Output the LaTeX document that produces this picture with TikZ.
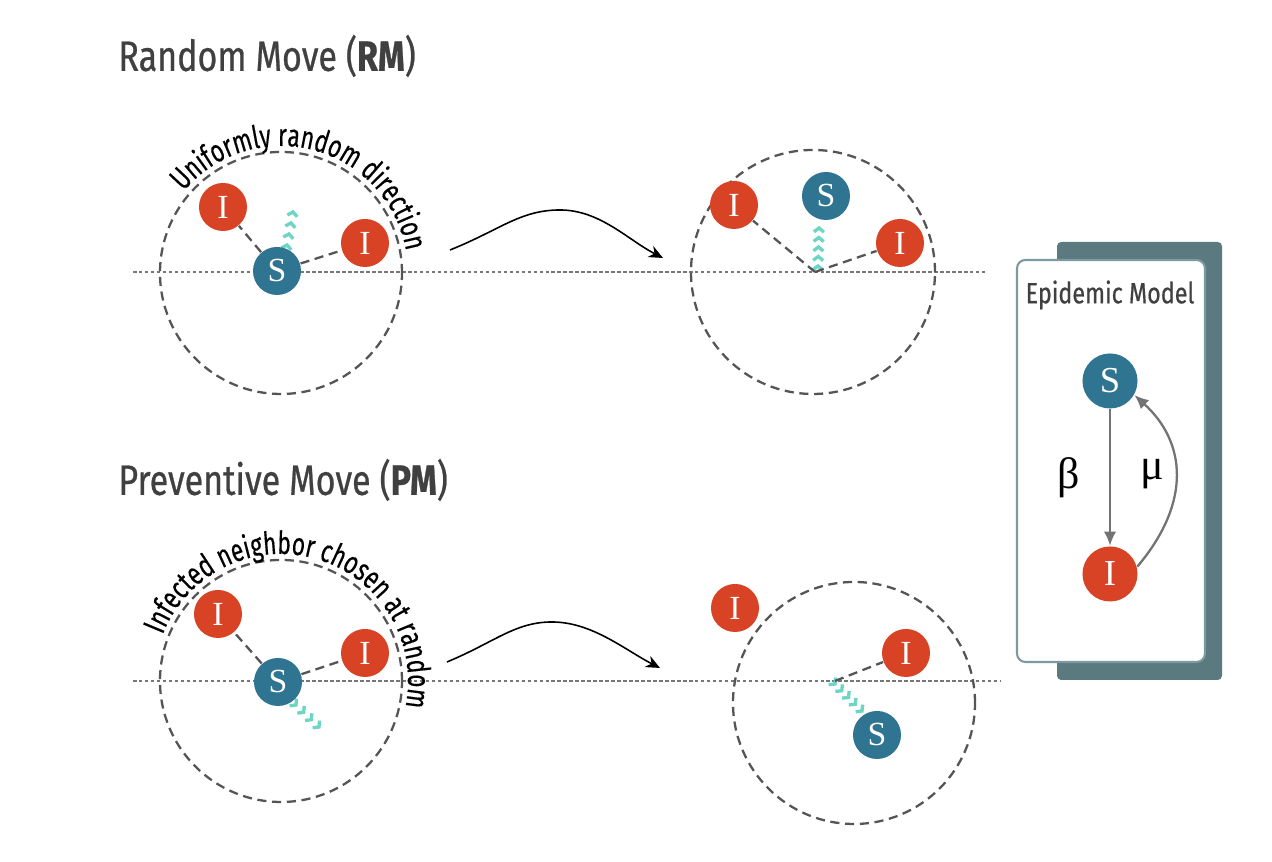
\documentclass[tikz,border=0pt]{standalone}
\usepackage{fontspec}
\usetikzlibrary{arrows.meta,decorations.text,calc}
\newfontfamily\headfont[FakeStretch=0.8,FakeBold=0.6]{Fira Sans}
\newfontfamily\curvedfont[FakeStretch=0.72,FakeBold=0.3]{Fira Sans}
\newfontfamily\letterfont{Liberation Serif}
\definecolor{infcol}{HTML}{D84325}
\definecolor{suscol}{HTML}{2F7490}
\definecolor{chevcol}{HTML}{6DD5C4}
\definecolor{linecol}{HTML}{555555}
\definecolor{boxcol}{HTML}{5B7A80}
\definecolor{framecol}{HTML}{7F99A0}
\definecolor{headcol}{HTML}{404040}
\newcommand\curvefont{\curvedfont\fontsize{9}{10}\selectfont}
\tikzset{
  agent/.style={circle,minimum size=0.48cm,inner sep=0pt,text=white,font=\letterfont\fontsize{9.6}{10}\selectfont},
  inf/.style={agent,fill=infcol},
  sus/.style={agent,fill=suscol},
  bigagent/.style={minimum size=0.55cm,font=\letterfont\fontsize{10.4}{11}\selectfont},
  zone/.style={draw=linecol,line width=0.65pt,dash pattern=on 2.6pt off 1.6pt},
  linkline/.style={draw=linecol,line width=0.65pt,dash pattern=on 2.6pt off 1.6pt},
  groundline/.style={draw=linecol!80,line width=0.3pt,dash pattern=on 1pt off 0.7pt},
  headline/.style={anchor=west,text=headcol,font=\headfont\fontsize{12.1}{14}\selectfont},
  movearrow/.style={-{Stealth[length=4pt,width=3.5pt]},line width=0.45pt},
  ratearrow/.style={-{Latex[length=4pt,width=3.5pt]},draw=gray!110,line width=0.65pt},
  greek/.style={text=black,font=\letterfont\fontsize{12.5}{14}\selectfont},
  chevron/.pic={\draw[chevcol,line width=0.95pt,miter limit=4] (-5,-4)--(0,0)--(5,-4);}
}
\newcommand\chevs[3]{% start, end, count-1
  \path let \p1=($(#2)-(#1)$), \n1={atan2(\y1,\x1)-90} in
    \foreach \k in {0,...,#3} {pic[rotate=\n1] at ($(#1)!\k/#3!(#2)$) {chevron}};}
\begin{document}
\begin{tikzpicture}[x=0.01cm,y=0.01cm]
\useasboundingbox (0,0) rectangle (1272,862);
% titles
\node[headline] (rmhead) at (106,806) {Random Move ({\bfseries RM})};
\node[headline] (pmhead) at (106,382) {Preventive Move ({\bfseries PM})};
% ground lines
\draw[groundline] (133,590) coordinate (ga) -- (985,590) coordinate (gb);
\draw[groundline] (133,181) coordinate (gc) -- (1000,181) coordinate (gd);
% random move, before
\draw[zone] (281,589) circle[radius=121];
\path[decorate,decoration={text along path,text align=center,text={|\curvefont|Uniformly random direction}}]
  (281,589) ++(144:127) arc[start angle=144,end angle=6,radius=127];
\coordinate (ca) at (287,617);
\coordinate (cb) at (293,650);
\chevs{ca}{cb}{3}
\node[inf] (ia) at (223,655) {I};
\node[inf] (ib) at (365,619) {I};
\node[sus] (sa) at (277,591) {S};
\draw[linkline] (sa) -- (ia);
\draw[linkline] (sa) -- (ib);
% random move, after
\draw[zone] (813,590) circle[radius=122];
\node[inf] (ic) at (734,657) {I};
\node[inf] (id) at (900,619) {I};
\node[sus] (sb) at (826,666) {S};
\coordinate (hub) at (815,590);
\coordinate (cc) at (818,596);
\coordinate (cd) at (819,634);
\chevs{cc}{cd}{4}
\draw[linkline] (hub) -- (ic);
\draw[linkline] (hub) -- (id);
\coordinate (ma) at (450,612);
\coordinate (mb) at (663,604);
\draw[movearrow] (ma) .. controls (500,632) and (520,652) .. (560,652) .. controls (600,652) and (628,622) .. (mb);
% preventive move, before
\draw[zone] (281,181) circle[radius=121];
\path[decorate,decoration={text along path,text align=center,text={|\curvefont|Infected neighbor chosen at random}}]
  (281,181) ++(162:127) arc[start angle=162,end angle=-15,radius=127];
\node[inf] (ie) at (218,248) {I};
\node[inf] (if) at (365,209) {I};
\coordinate (ce) at (296,157);
\coordinate (cf) at (319,135);
\chevs{ce}{cf}{3}
\node[sus] (sc) at (278,180) {S};
\draw[linkline] (sc) -- (ie);
\draw[linkline] (sc) -- (if);
% preventive move, after
\draw[zone] (854,159) circle[radius=121];
\node[inf] (ig) at (735,254) {I};
\node[inf] (ih) at (906,209) {I};
\node[sus] (sd) at (877,127) {S};
\coordinate (hubb) at (835,181);
\coordinate (cg) at (835,178);
\coordinate (ch) at (862,151);
\chevs{cg}{ch}{4}
\draw[linkline] (hubb) -- (ih);
\coordinate (mc) at (447,200);
\coordinate (md) at (660,194);
\draw[movearrow] (mc) .. controls (495,220) and (515,240) .. (552,240) .. controls (592,240) and (625,212) .. (md);
% epidemic model
\fill[boxcol,rounded corners=1.2pt] (1057,182) rectangle (1222,620);
\draw[framecol,fill=white,line width=0.6pt,rounded corners=2.4pt] (1017,200) rectangle (1205,602);
\node[text=headcol,font=\headfont\fontsize{8.3}{9}\selectfont] (emhead) at (1110,567) {Epidemic Model};
\node[sus,bigagent] (ms) at (1110,481) {S};
\node[inf,bigagent] (mi) at (1110,288) {I};
\draw[ratearrow] (ms) -- node[greek,left=5pt] (beta) {β} (mi);
\draw[ratearrow] (mi.15) .. controls (1192,360) and (1186,420) .. (ms.-30);
\node[greek] (mu) at (1152,388) {μ};
\end{tikzpicture}
\end{document}
